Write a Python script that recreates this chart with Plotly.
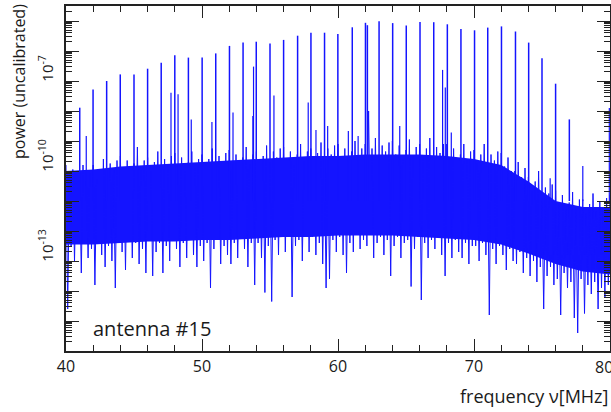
import plotly.graph_objects as go

# ---------------- data (log10 of power) ----------------
# strong comb lines
spike_freq = [41.01, 41.99, 42.99, 43.99, 45.0, 46.0, 47.0, 48.0, 49.0, 50.01,
              51.01, 52.02, 53.02, 53.99, 55.0, 56.0, 57.03, 58.01, 59.01, 59.99,
              61.05, 62.02, 62.16, 63.02, 64.02, 65.02, 66.03, 67.04, 68.04, 69.04,
              70.04, 71.01, 72.02, 73.05, 74.02, 75.0, 76.0, 77.01]
spike_exp = [-7.89, -7.28, -7.0, -6.78, -6.78, -6.59, -6.39, -6.14, -6.22, -6.22,
             -6.08, -5.83, -5.72, -5.69, -5.75, -5.63, -5.49, -5.39, -5.39, -5.43,
             -5.21, -5.06, -5.14, -5.01, -5.07, -5.15, -5.03, -5.04, -5.11, -5.27,
             -5.31, -5.22, -5.18, -5.35, -5.72, -6.24, -7.09, -8.28]

# weaker lines
small_freq = [41.49, 47.72, 48.24, 49.21, 50.73, 52.28, 53.74, 53.79, 55.29, 57.81,
              58.38, 59.24, 60.76, 61.48, 64.54, 67.69, 67.89, 68.33, 75.6, 78.0, 79.95]
small_exp = [-8.83, -7.39, -7.44, -8.28, -8.37, -8.05, -8.17, -6.52, -7.48, -7.72,
             -8.63, -8.5, -8.67, -8.83, -8.5, -6.63, -7.22, -8.72, -10.24, -9.83, -7.9]

# noise band: upper excursions every 0.25 MHz from 40 MHz
noise_hi_exp = [
    -9.8, -10.25, -9.95, -10.4,    -10.15, -9.8, -10.35, -10.05,  -9.8, -10.25, -9.95, -9.6,
    -10.1, -9.75, -9.95, -9.65,    -9.5, -9.95, -9.65, -10.1,     -9.75, -9.2, -9.95, -9.65,
    -9.55, -10.0, -9.7, -9.35,     -9.95, -9.6, -9.8, -9.5,       -9.4, -9.85, -9.55, -10.0,
    -9.7, -9.35, -9.9, -9.6,       -9.45, -9.9, -9.6, -9.25,      -9.85, -9.5, -9.7, -9.4,
    -9.3, -9.75, -9.45, -9.9,      -9.55, -9.2, -9.75, -9.45,     -9.35, -9.8, -9.5, -9.15,
    -9.7, -9.35, -9.55, -9.25,     -9.2, -9.65, -9.35, -9.8,      -9.45, -9.1, -9.65, -9.35,
    -9.25, -9.7, -9.4, -9.05,      -9.6, -9.25, -9.45, -9.15,     -9.1, -9.55, -9.25, -9.7,
    -9.35, -9.0, -9.55, -9.25,     -9.1, -8.0, -9.25, -8.9,       -9.5, -9.15, -9.35, -9.05,
    -9.0, -9.45, -9.15, -9.6,      -9.3, -8.95, -9.5, -9.2,       -9.1, -9.55, -9.25, -8.9,
    -9.55, -9.2, -9.4, -9.1,       -9.1, -9.55, -9.25, -9.7,      -9.45, -9.1, -9.65, -9.35,
    -9.3, -9.75, -9.45, -9.1,      -9.8, -9.45, -9.65, -9.35,     -9.4, -9.85, -9.55, -10.0,
    -10.0, -9.7, -10.2, -9.9,      -10.2, -10.65, -10.35, -10.0,  -10.9, -10.55, -10.75, -10.45,
    -10.65, -11.1, -10.8, -11.25,  -11.05, -10.7, -11.25, -10.95, -10.95, -11.4, -11.1, -10.75,
    -11.35, -11.0, -11.2, -10.9,   -10.8]

# noise band: lower excursions every 0.25 MHz from 40.125 MHz
noise_lo_exp = [
    -14.6, -12.5, -13.0, -12.3,    -13.4, -12.4, -12.9, -12.6,    -13.8, -12.3, -12.8, -13.2,
    -12.5, -13.0, -13.9, -12.4,    -12.7, -13.3, -12.3, -12.9,    -12.4, -13.1, -12.6, -13.4,
    -12.3, -13.5, -12.7, -12.4,    -13.4, -12.5, -13.0, -12.3,    -12.6, -13.2, -12.4, -12.9,
    -12.3, -12.8, -13.2, -12.5,    -13.0, -12.4, -13.9, -12.6,    -12.3, -13.1, -12.5, -12.8,
    -13.1, -12.4, -12.9, -12.2,    -12.6, -13.2, -12.4, -13.8,    -12.4, -12.9, -14.05, -12.5,
    -14.35, -12.3, -12.8, -12.2,   -12.7, -12.2, -14.2, -12.5,    -12.3, -13.0, -12.2, -12.7,
    -12.2, -12.8, -12.4, -13.1,    -13.9, -13.6, -12.3, -12.7,    -12.2, -12.8, -13.4, -12.4,
    -12.7, -12.1, -12.6, -12.3,    -12.5, -12.1, -12.9, -12.4,    -12.2, -12.8, -12.3, -13.5,
    -12.5, -12.2, -12.9, -12.4,    -12.3, -13.85, -12.6, -12.2,   -14.3, -12.4, -12.9, -12.3,
    -12.6, -12.2, -12.8, -13.5,    -12.4, -12.9, -12.3, -12.7,    -12.9, -12.4, -13.1, -12.5,
    -12.5, -13.0, -12.4, -12.8,    -14.8, -12.6, -13.1, -12.5,    -12.8, -13.3, -12.6, -13.0,
    -13.1, -12.7, -13.4, -12.9,    -13.5, -13.0, -13.7, -13.2,    -14.6, -13.5, -13.2, -13.8,
    -13.6, -14.8, -13.4, -13.9,    -13.7, -14.9, -15.4, -13.6,    -14.75, -13.8, -14.1, -13.7,
    -14.6, -13.9, -14.2, -13.8]

# solid part of the noise band (every 2 MHz)
core_freq = [40, 42, 44, 46, 48, 50, 52, 54, 56, 58, 60, 62, 64, 66, 68, 70, 72, 74, 76, 78, 80]
core_top_exp = [-10.0, -9.95, -9.85, -9.8, -9.75, -9.7, -9.65, -9.6, -9.55, -9.5, -9.5,
                -9.45, -9.45, -9.45, -9.5, -9.6, -9.8, -10.35, -11.0, -11.2, -11.2]
core_bot_exp = [-12.45, -12.45, -12.4, -12.35, -12.35, -12.3, -12.3, -12.25, -12.2, -12.2, -12.15,
                -12.15, -12.15, -12.2, -12.25, -12.3, -12.45, -12.75, -13.1, -13.35, -13.45]

y_label_exps = [-7, -10, -13, -16]
x_tick_vals = [40, 50, 60, 70]
x_last_label = "80"

# ---------------- styling ----------------
BLUE = "rgb(20,20,255)"
AX = "#222222"
TXT = "#1a1a1a"
FONT = "Open Sans"
W, H = 611, 412
ML, MR, MT, MB = 66, 1, 6, 61
PW, PH = W - ML - MR, H - MT - MB


def px_x(p):
    return (p - ML) / PW


def px_y(p):
    return 1 - (p - MT) / PH


fig = go.Figure()

# solid part of band
cx = core_freq + core_freq[::-1]
cy = [10 ** v for v in core_top_exp] + [10 ** v for v in core_bot_exp[::-1]]
fig.add_trace(go.Scatter(x=cx, y=cy, mode="lines", fill="toself", fillcolor=BLUE,
                         line=dict(width=0), hoverinfo="skip"))

# noisy spectrum (alternating upper / lower excursions)
nx, ny = [], []
for i, hv in enumerate(noise_hi_exp):
    nx.append(40 + 0.25 * i)
    ny.append(10 ** hv)
    if i < len(noise_lo_exp):
        nx.append(40.125 + 0.25 * i)
        ny.append(10 ** noise_lo_exp[i])
fig.add_trace(go.Scatter(x=nx, y=ny, mode="lines", line=dict(color=BLUE, width=1),
                         hoverinfo="skip"))


def vlines(freqs, exps, base=-11.0):
    xs, ys = [], []
    for f, e in zip(freqs, exps):
        xs += [f, f, None]
        ys += [10 ** base, 10 ** e, None]
    return xs, ys


sx, sy = vlines(small_freq, small_exp)
fig.add_trace(go.Scatter(x=sx, y=sy, mode="lines", line=dict(color=BLUE, width=1.2),
                         hoverinfo="skip"))
bx, by = vlines(spike_freq, spike_exp)
fig.add_trace(go.Scatter(x=bx, y=by, mode="lines", line=dict(color=BLUE, width=1.5),
                         hoverinfo="skip"))

fig.update_layout(
    width=W, height=H, margin=dict(l=ML, r=MR, t=MT, b=MB),
    plot_bgcolor="white", paper_bgcolor="white", showlegend=False,
    font=dict(family=FONT, color=TXT),
)
fig.update_xaxes(
    range=[40, 80], showline=True, linecolor=AX, linewidth=1.5, mirror="ticks",
    ticks="inside", ticklen=12, tickwidth=1.3, tickcolor=AX,
    tickvals=x_tick_vals + [80], ticktext=[str(v) for v in x_tick_vals] + [""],
    minor=dict(dtick=2, ticks="inside", ticklen=6, tickwidth=1.2, tickcolor=AX),
    showgrid=False, zeroline=False, automargin=False,
    tickfont=dict(size=16, family=FONT, color=TXT),
)
fig.update_yaxes(
    type="log", range=[-16, -4.5], showline=True, linecolor=AX, linewidth=1.5,
    mirror="ticks", ticks="inside", ticklen=13, tickwidth=1.3, tickcolor=AX, dtick=1,
    minor=dict(ticks="inside", ticklen=6, tickwidth=1, tickcolor=AX),
    showticklabels=False, showgrid=False, zeroline=False, automargin=False,
)

ann = []
for e in y_label_exps:
    ann.append(dict(text=f"10<sup>{e}</sup>", textangle=-90, xref="paper", x=px_x(58),
                    xanchor="right", yref="y", y=e - 0.09, yanchor="bottom",
                    showarrow=False, font=dict(size=15, family=FONT, color=TXT)))
ann.append(dict(text=x_last_label, xref="paper", x=px_x(604), xanchor="center",
                yref="paper", y=px_y(367), yanchor="middle", showarrow=False,
                font=dict(size=16, family=FONT, color=TXT)))
ann.append(dict(text="power (uncalibrated)", textangle=-90, xref="paper", x=px_x(19),
                xanchor="center", yref="paper", y=px_y(82), yanchor="middle",
                showarrow=False, font=dict(size=16, family=FONT, color=TXT)))
ann.append(dict(text="frequency ν[MHz]", xref="paper", x=px_x(610), xanchor="right",
                yref="paper", y=px_y(396), yanchor="middle", showarrow=False,
                font=dict(size=18, family=FONT, color=TXT)))
ann.append(dict(text="antenna #15", xref="paper", x=px_x(91), xanchor="left",
                yref="paper", y=px_y(328), yanchor="middle", showarrow=False,
                font=dict(size=20, family=FONT, color=TXT)))
fig.update_layout(annotations=ann)

fig.write_html("out.html", config={"displayModeBar": False},
               post_script="document.body.style.margin='0px';")
